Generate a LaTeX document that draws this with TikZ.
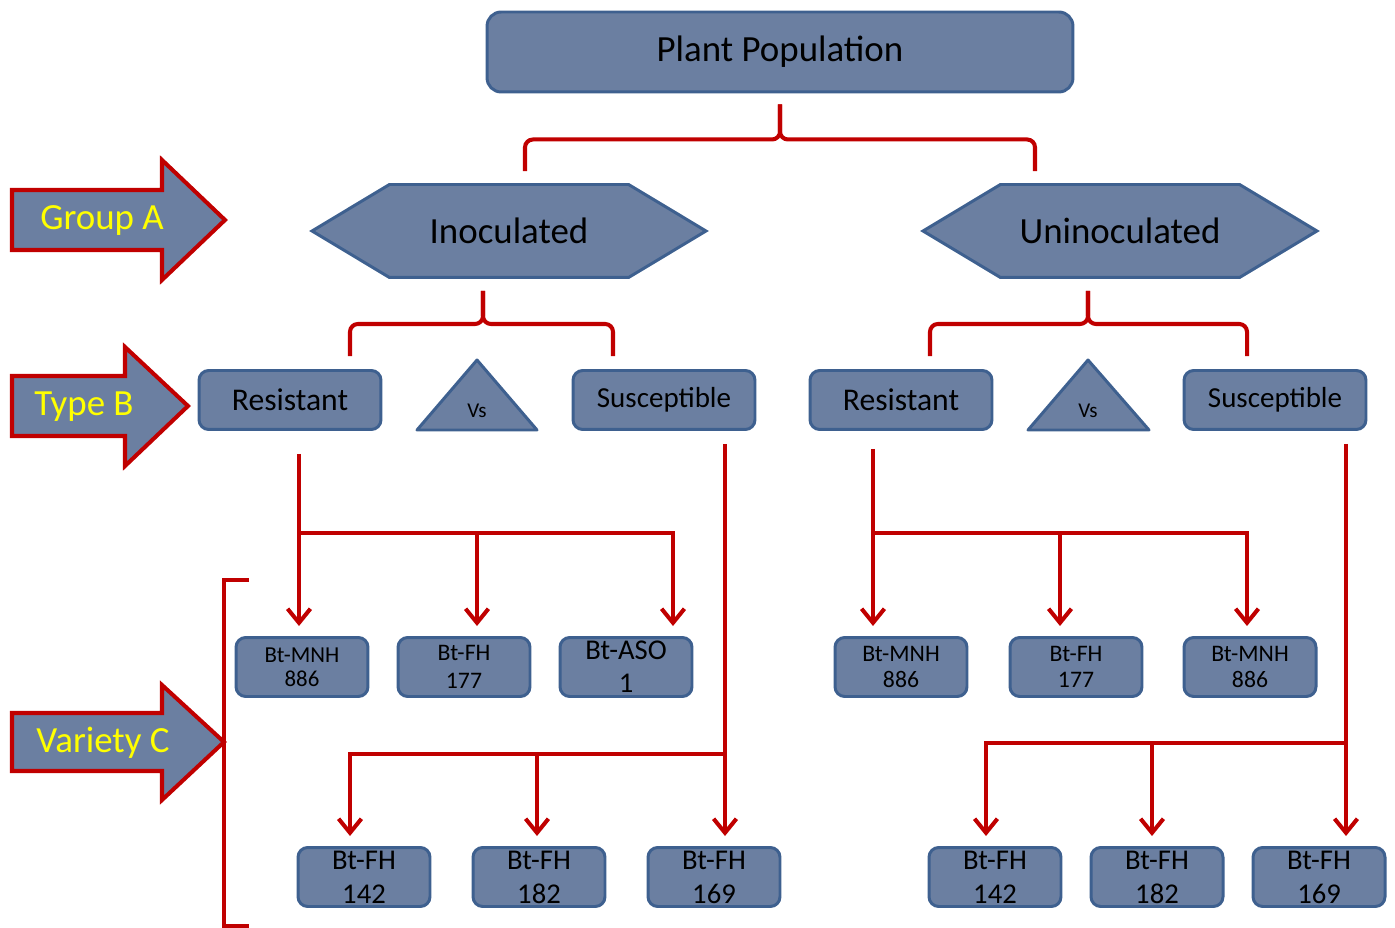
\documentclass[tikz,border=0pt]{standalone}
\usepackage{fontspec}
\setmainfont{Carlito}
\usetikzlibrary{shapes.symbols,arrows.meta,positioning}
\definecolor{boxfill}{RGB}{107,127,161}
\definecolor{boxline}{RGB}{62,96,143}
\definecolor{linkred}{RGB}{192,0,0}
\definecolor{labelyellow}{RGB}{255,255,0}
\tikzset{
  box/.style = {draw=boxline, fill=boxfill, line width=1.7pt, rounded corners=5.5pt,
    align=center, text=black, inner sep=0pt},
  bigbox/.style = {box, rounded corners=8pt, minimum width=11.72cm, minimum height=1.6cm,
    font=\fontsize{21}{24}\selectfont},
  hexa/.style = {signal, signal to=west and east, signal pointer angle=62, draw=boxline,
    fill=boxfill, line width=1.7pt, minimum width=7.88cm, minimum height=1.86cm,
    font=\fontsize{21}{24}\selectfont},
  typebox/.style = {box, minimum width=3.64cm, minimum height=1.18cm},
  varbox/.style = {box, minimum width=2.64cm, minimum height=1.18cm},
  vstri/.style = {draw=boxline, fill=boxfill, line width=1.7pt, line join=round},
  tag/.style = {draw=linkred, fill=boxfill, line width=2.3pt, line join=miter},
  tagtext/.style = {text=labelyellow, font=\fontsize{21}{24}\selectfont},
  link/.style = {draw=linkred, line width=2.3pt},
  arr/.style = {link, -{Straight Barb[length=8pt,width=13pt]}, shorten >=0.2cm},
  brace/.style = {link, rounded corners=4.5pt}
}
\begin{document}
\begin{tikzpicture}[x=0.02cm, y=-0.02cm]
        \useasboundingbox (0,0) rectangle (1395,928);

        % levels
        \node [bigbox](pop) at (780,52){Plant Population};
        \node [hexa](inoc) at (509,231){Inoculated};
        \node [hexa](uninoc) at (1120,231){Uninoculated};

        \node [typebox, font=\fontsize{18}{20}\selectfont](resL) at (290,400){Resistant};
        \node [typebox, font=\fontsize{16.5}{20}\selectfont](susL) at (664,400){Susceptible};
        \node [typebox, font=\fontsize{18}{20}\selectfont](resR) at (901,400){Resistant};
        \node [typebox, font=\fontsize{16.5}{20}\selectfont](susR) at (1275,400){Susceptible};

        \draw [vstri] (417,430) -- (477,360) -- (537,430) -- cycle;
        \node [font=\fontsize{12}{14}\selectfont](vsL) at (477,411){Vs};
        \draw [vstri] (1028,430) -- (1088,360) -- (1149,430) -- cycle;
        \node [font=\fontsize{12}{14}\selectfont](vsR) at (1088,411){Vs};

        % varieties
        \node [varbox, font=\fontsize{13}{13.6}\selectfont](mnhL) at (302,667){Bt-MNH\\886};
        \node [varbox, font=\fontsize{13.5}{16}\selectfont](fhL) at (464,667){Bt-FH\\177};
        \node [varbox, font=\fontsize{16.3}{18.7}\selectfont](asoL) at (626,667){Bt-ASO\\1};
        \node [varbox, font=\fontsize{16.3}{19.3}\selectfont](f142L) at (364,877){Bt-FH\\142};
        \node [varbox, font=\fontsize{16.3}{19.3}\selectfont](f182L) at (539,877){Bt-FH\\182};
        \node [varbox, font=\fontsize{16.3}{19.3}\selectfont](f169L) at (714,877){Bt-FH\\169};

        \node [varbox, font=\fontsize{13.5}{15}\selectfont](mnhR) at (901,667){Bt-MNH\\886};
        \node [varbox, font=\fontsize{13.5}{15}\selectfont](fhR) at (1076,667){Bt-FH\\177};
        \node [varbox, font=\fontsize{13.5}{15}\selectfont](mnh2R) at (1250,667){Bt-MNH\\886};
        \node [varbox, font=\fontsize{16.3}{19.3}\selectfont](f142R) at (995,877){Bt-FH\\142};
        \node [varbox, font=\fontsize{16.3}{19.3}\selectfont](f182R) at (1157,877){Bt-FH\\182};
        \node [varbox, font=\fontsize{16.3}{19.3}\selectfont](f169R) at (1319,877){Bt-FH\\169};

        % braces
        \draw [brace] ([shift={(0,11)}]pop.south) -- ++(0,35) -| ([shift={(16,-12)}]inoc.north);
        \draw [brace] ([shift={(0,11)}]pop.south) -- ++(0,35) -| ([shift={(-85,-12)}]uninoc.north);
        \draw [brace] ([shift={(-26,12)}]inoc.south) -- ++(0,33) -| ([shift={(60,-13)}]resL.north);
        \draw [brace] ([shift={(-26,12)}]inoc.south) -- ++(0,33) -| ([shift={(-51,-13)}]susL.north);
        \draw [brace] ([shift={(-32,12)}]uninoc.south) -- ++(0,33) -| ([shift={(29,-13)}]resR.north);
        \draw [brace] ([shift={(-32,12)}]uninoc.south) -- ++(0,33) -| ([shift={(-28,-13)}]susR.north);

        % arrows
        \coordinate (a1) at (299,533);
        \coordinate (a2) at (477,533);
        \coordinate (a3) at (673,533);
        \draw [arr] ([shift={(0,23)}]resL.south -| a1) -- (a1 |- mnhL.north);
        \draw [arr] (a1) -| (a3 |- asoL.north);
        \draw [arr] (a2) -- (a2 |- fhL.north);

        \coordinate (b1) at (350,754);
        \coordinate (b2) at (537,754);
        \coordinate (b3) at (725,754);
        \draw [arr] ([shift={(0,13)}]susL.south -| b3) -- (b3 |- f169L.north);
        \draw [arr] (b3) -| (b1 |- f142L.north);
        \draw [arr] (b2) -- (b2 |- f182L.north);

        \coordinate (c1) at (873,533);
        \coordinate (c2) at (1060,533);
        \coordinate (c3) at (1247,533);
        \draw [arr] ([shift={(0,18)}]resR.south -| c1) -- (c1 |- mnhR.north);
        \draw [arr] (c1) -| (c3 |- mnh2R.north);
        \draw [arr] (c2) -- (c2 |- fhR.north);

        \coordinate (d1) at (986,743);
        \coordinate (d2) at (1152,743);
        \coordinate (d3) at (1346,743);
        \draw [arr] ([shift={(0,13)}]susR.south -| d3) -- (d3 |- f169R.north);
        \draw [arr] (d3) -| (d1 |- f142R.north);
        \draw [arr] (d2) -- (d2 |- f182R.north);

        % side tags
        \draw [tag] (12,190) -- (162,190) -- (162,160) -- (225,220) -- (162,280) -- (162,250) -- (12,250) -- cycle;
        \node [tagtext](grpA) at (102,221){Group A};
        \draw [tag] (12,376) -- (125,376) -- (125,347) -- (188,406) -- (125,466) -- (125,436) -- (12,436) -- cycle;
        \node [tagtext](typB) at (84,407){Type B};
        \draw [tag] (12,713) -- (162,713) -- (162,685) -- (224,742) -- (162,800) -- (162,771) -- (12,771) -- cycle;
        \node [tagtext](varC) at (103,743){Variety C};

        \draw [link] (249,580) -- (224,580) -- (224,926) -- (249,926);

\end{tikzpicture}
\end{document}
